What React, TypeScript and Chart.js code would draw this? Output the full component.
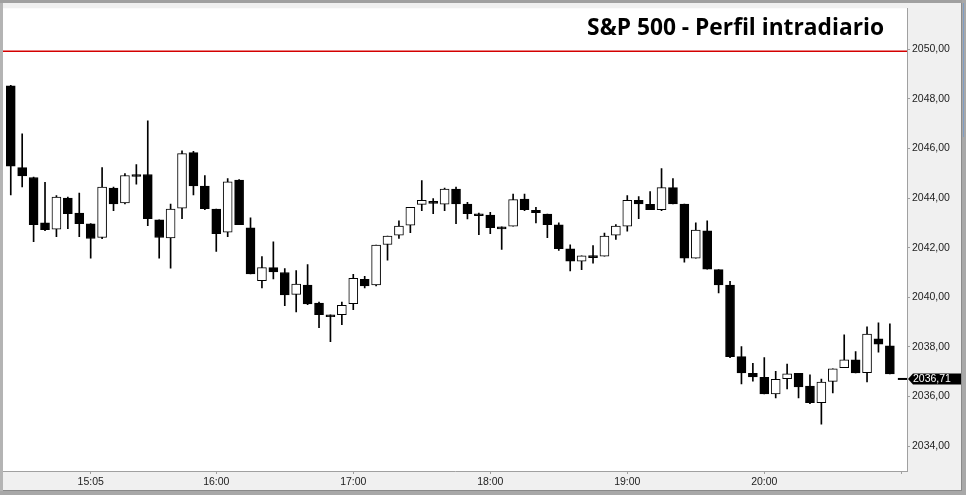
import { useEffect, useRef } from 'react';
import { Chart, registerables } from 'chart.js';

Chart.register(...registerables);

const times = [
  '14:30', '14:35', '14:40', '14:45', '14:50', '14:55', '15:00', '15:05', '15:10', '15:15',
  '15:20', '15:25', '15:30', '15:35', '15:40', '15:45', '15:50', '15:55', '16:00', '16:05',
  '16:10', '16:15', '16:20', '16:25', '16:30', '16:35', '16:40', '16:45', '16:50', '16:55',
  '17:00', '17:05', '17:10', '17:15', '17:20', '17:25', '17:30', '17:35', '17:40', '17:45',
  '17:50', '17:55', '18:00', '18:05', '18:10', '18:15', '18:20', '18:25', '18:30', '18:35',
  '18:40', '18:45', '18:50', '18:55', '19:00', '19:05', '19:10', '19:15', '19:20', '19:25',
  '19:30', '19:35', '19:40', '19:45', '19:50', '19:55', '20:00', '20:05', '20:10', '20:15',
  '20:20', '20:25', '20:30', '20:35', '20:40', '20:45', '20:50', '20:55',
];

const opens = [
  2048.52, 2045.23, 2044.83, 2043.00, 2042.75, 2044.00, 2043.40, 2042.96, 2042.41, 2044.40,
  2043.81, 2044.95, 2044.95, 2043.12, 2042.39, 2043.59, 2045.83, 2044.48, 2043.56, 2042.63,
  2044.73, 2042.80, 2040.67, 2041.20, 2041.00, 2040.12, 2040.49, 2039.77, 2039.29, 2039.30,
  2039.74, 2040.73, 2040.50, 2042.13, 2042.51, 2042.91, 2043.75, 2043.87, 2043.76, 2044.36,
  2043.76, 2043.37, 2043.32, 2042.84, 2042.87, 2043.96, 2043.51, 2043.36, 2042.92, 2041.96,
  2041.46, 2041.68, 2041.66, 2042.51, 2042.87, 2043.91, 2043.75, 2043.53, 2044.42, 2043.76,
  2041.58, 2042.68, 2041.12, 2040.49, 2037.61, 2036.94, 2036.78, 2036.11, 2036.72, 2036.94,
  2036.42, 2035.75, 2036.61, 2037.16, 2037.48, 2036.96, 2038.33, 2038.05,
];

const highs = [
  2048.55, 2046.59, 2044.85, 2044.64, 2044.10, 2044.04, 2044.20, 2042.97, 2045.23, 2044.44,
  2044.99, 2045.35, 2047.11, 2043.12, 2043.76, 2045.91, 2045.88, 2044.91, 2043.56, 2044.79,
  2044.75, 2043.20, 2041.64, 2042.24, 2041.16, 2041.08, 2041.32, 2039.81, 2039.29, 2039.81,
  2040.93, 2040.85, 2042.11, 2042.47, 2043.08, 2043.63, 2044.71, 2043.98, 2044.40, 2044.44,
  2043.83, 2043.40, 2043.43, 2042.84, 2044.16, 2044.16, 2043.63, 2043.36, 2043.00, 2042.12,
  2041.67, 2042.09, 2042.59, 2042.93, 2044.10, 2044.06, 2044.26, 2045.19, 2044.79, 2043.76,
  2043.00, 2043.08, 2041.12, 2040.65, 2038.01, 2037.34, 2037.57, 2037.02, 2037.31, 2036.94,
  2036.88, 2036.70, 2037.12, 2038.49, 2037.81, 2038.81, 2038.97, 2038.93,
];

const lows = [
  2044.13, 2044.45, 2042.24, 2042.69, 2042.45, 2042.77, 2042.45, 2041.58, 2042.36, 2043.49,
  2043.77, 2044.56, 2042.89, 2041.58, 2041.18, 2043.17, 2044.13, 2043.53, 2041.85, 2042.45,
  2042.93, 2040.94, 2040.38, 2040.74, 2039.66, 2039.41, 2039.70, 2038.78, 2038.21, 2038.90,
  2039.50, 2040.38, 2040.46, 2041.50, 2042.37, 2042.61, 2043.49, 2043.37, 2043.49, 2042.97,
  2043.16, 2042.53, 2042.57, 2041.93, 2042.87, 2043.49, 2043.00, 2042.40, 2041.89, 2041.06,
  2041.12, 2041.38, 2041.66, 2042.33, 2042.67, 2043.17, 2043.53, 2043.49, 2043.77, 2041.42,
  2041.58, 2041.14, 2040.18, 2037.57, 2036.51, 2036.62, 2036.11, 2035.95, 2036.31, 2035.95,
  2035.71, 2034.89, 2036.15, 2037.16, 2036.95, 2036.59, 2037.79, 2036.91,
];

const closes = [
  2045.29, 2044.89, 2042.93, 2042.73, 2044.04, 2043.37, 2042.97, 2042.37, 2044.44, 2043.77,
  2044.91, 2044.87, 2043.17, 2042.41, 2043.56, 2045.79, 2044.49, 2043.57, 2042.57, 2044.66,
  2042.93, 2040.94, 2041.20, 2041.02, 2040.10, 2040.53, 2039.73, 2039.30, 2039.22, 2039.68,
  2040.77, 2040.46, 2042.11, 2042.47, 2042.87, 2043.63, 2043.91, 2043.79, 2044.36, 2043.77,
  2043.37, 2043.29, 2042.81, 2042.76, 2043.94, 2043.53, 2043.41, 2042.93, 2041.96, 2041.46,
  2041.67, 2041.60, 2042.47, 2042.87, 2043.91, 2043.77, 2043.53, 2044.42, 2043.77, 2041.58,
  2042.71, 2041.14, 2040.50, 2037.61, 2036.95, 2036.79, 2036.11, 2036.69, 2036.92, 2036.39,
  2035.75, 2036.58, 2037.12, 2037.48, 2036.95, 2038.52, 2038.11, 2036.91,
];

const yTickValues = [2034, 2036, 2038, 2040, 2042, 2044, 2046, 2048, 2050];
const xTickTimes = ['15:05', '16:00', '17:00', '18:00', '19:00', '20:00', '21:00'];
const xTickLabels = ['15:05', '16:00', '17:00', '18:00', '19:00', '20:00', ''];
const lastPrice = 2036.71;
const title = 'S&P 500 - Perfil intradiario';

const toMin = (t: string) => {
  const [h, m] = t.split(':').map(Number);
  return h * 60 + m;
};
const fmtPrice = (v: number) => v.toFixed(2).replace('.', ',');

const AXIS_FONT = { family: '"Liberation Sans", Arial, sans-serif', size: 10.5 };

const framePlugin = {
  id: 'frame',
  beforeDraw(chart: any) {
    const { ctx, chartArea: a, width, height } = chart;
    ctx.save();
    ctx.fillStyle = '#f0f0f0';
    ctx.fillRect(0, 0, width, height);
    ctx.fillStyle = '#ffffff';
    ctx.fillRect(a.left, a.top, a.right - a.left, a.bottom - a.top);
    ctx.restore();
  },
  afterDatasetsDraw(chart: any) {
    const { ctx, chartArea: a } = chart;
    ctx.save();
    // title separator
    ctx.strokeStyle = '#d40000';
    ctx.lineWidth = 1.5;
    ctx.beginPath();
    ctx.moveTo(a.left, 51.3);
    ctx.lineTo(a.right, 51.3);
    ctx.stroke();
    // title
    ctx.font = 'bold 24px "Open Sans", sans-serif';
    const w = ctx.measureText(title).width;
    const size = (24 * 297) / w;
    ctx.font = `bold ${size}px "Open Sans", sans-serif`;
    ctx.fillStyle = '#000000';
    ctx.textAlign = 'right';
    ctx.textBaseline = 'alphabetic';
    ctx.fillText(title, a.right - 23, 35);
    ctx.restore();
  },
  afterDraw(chart: any) {
    const { ctx, chartArea: a, width, height, scales } = chart;
    const ys = scales.y;
    const xs = scales.x;
    const py = ys.getPixelForValue(lastPrice);
    const lastX = xs.getPixelForValue(toMin(times[times.length - 1]));
    ctx.save();
    // last price line
    ctx.strokeStyle = '#000000';
    ctx.lineWidth = 2;
    ctx.beginPath();
    ctx.moveTo(lastX + 8, py);
    ctx.lineTo(a.right, py);
    ctx.stroke();
    // tag
    ctx.fillStyle = '#000000';
    ctx.beginPath();
    ctx.moveTo(a.right + 1, py);
    ctx.lineTo(a.right + 6, py - 5.5);
    ctx.lineTo(width - 4, py - 5.5);
    ctx.lineTo(width - 4, py + 5.5);
    ctx.lineTo(a.right + 6, py + 5.5);
    ctx.closePath();
    ctx.fill();
    ctx.fillStyle = '#ffffff';
    ctx.font = `${AXIS_FONT.size}px ${AXIS_FONT.family}`;
    ctx.textAlign = 'left';
    ctx.textBaseline = 'middle';
    ctx.fillText(fmtPrice(lastPrice), a.right + 6, py + 0.5);
    // outer frame
    ctx.fillStyle = '#a0a0a0';
    ctx.fillRect(0, 0, width, 3);
    ctx.fillStyle = '#b4b4b4';
    ctx.fillRect(0, 3, 3, height - 3);
    ctx.fillStyle = '#a8a8a8';
    ctx.fillRect(width - 4, 0, 4, height);
    ctx.fillRect(0, height - 4, width, 4);
    ctx.fillStyle = '#8a8a8a';
    ctx.fillRect(width - 5, 3, 1, height - 7);
    ctx.fillRect(3, height - 5, width - 7, 1);
    // scroll indicator
    ctx.fillStyle = '#7f9dc4';
    ctx.fillRect(width - 3, 3, 1, 134);
    ctx.restore();
  },
};

export default function App() {
  const canvasRef = useRef<HTMLCanvasElement | null>(null);

  useEffect(() => {
    const canvas = canvasRef.current;
    if (!canvas) return;
    const mins = times.map(toMin);
    const bodies = mins.map((m, i) => ({ x: m, y: [opens[i], closes[i]] }));
    const wicks = mins.map((m, i) => ({ x: m, y: [lows[i], highs[i]] }));
    const bodyFill = opens.map((o, i) => (closes[i] > o ? '#ffffff' : '#000000'));
    const xTickMins = xTickTimes.map(toMin);

    const chart = new Chart(canvas, {
      type: 'bar',
      data: {
        datasets: [
          {
            label: 'body',
            data: bodies as any,
            backgroundColor: bodyFill,
            borderColor: '#000000',
            borderWidth: 1,
            borderSkipped: false,
            barThickness: 9,
            grouped: false,
            order: 0,
          } as any,
          {
            label: 'wick',
            data: wicks as any,
            backgroundColor: '#000000',
            borderWidth: 0,
            barThickness: 1,
            grouped: false,
            order: 1,
          } as any,
        ],
      },
      plugins: [framePlugin],
      options: {
        responsive: false,
        animation: false,
        devicePixelRatio: 1,
        events: [],
        layout: { padding: { left: 3, top: 3, right: 0, bottom: 0 } },
        plugins: {
          legend: { display: false },
          tooltip: { enabled: false },
          title: { display: false },
        },
        scales: {
          x: {
            type: 'linear',
            position: 'bottom',
            min: 866.6,
            max: 1262.5,
            offset: false,
            grid: {
              offset: false,
              drawOnChartArea: false,
              drawTicks: true,
              tickLength: 3,
              color: '#a0a0a0',
            },
            border: { display: true, color: '#a0a0a0', width: 1 },
            afterBuildTicks: (scale: any) => {
              scale.ticks = xTickMins.map((v) => ({ value: v }));
            },
            afterFit: (scale: any) => {
              scale.height = 24;
            },
            ticks: {
              autoSkip: false,
              maxRotation: 0,
              minRotation: 0,
              padding: 2,
              color: '#222222',
              font: AXIS_FONT,
              callback: (_v: any, i: number) => xTickLabels[i],
            },
          },
          y: {
            type: 'linear',
            position: 'right',
            min: 2033,
            max: 2051.65,
            beginAtZero: false,
            grid: {
              drawOnChartArea: false,
              drawTicks: true,
              tickLength: 3,
              color: '#a0a0a0',
            },
            border: { display: true, color: '#a0a0a0', width: 1 },
            afterBuildTicks: (scale: any) => {
              scale.ticks = yTickValues.map((v) => ({ value: v }));
            },
            afterFit: (scale: any) => {
              scale.width = 59;
            },
            ticks: {
              padding: 2,
              color: '#222222',
              font: AXIS_FONT,
              callback: (v: any) => fmtPrice(Number(v)),
            },
          },
        },
      } as any,
    });
    return () => chart.destroy();
  }, []);

  return (
    <div style={{ position: 'absolute', left: 0, top: 0, width: 966, height: 495 }}>
      <canvas ref={canvasRef} width={966} height={495} style={{ display: 'block', width: 966, height: 495 }} />
    </div>
  );
}
